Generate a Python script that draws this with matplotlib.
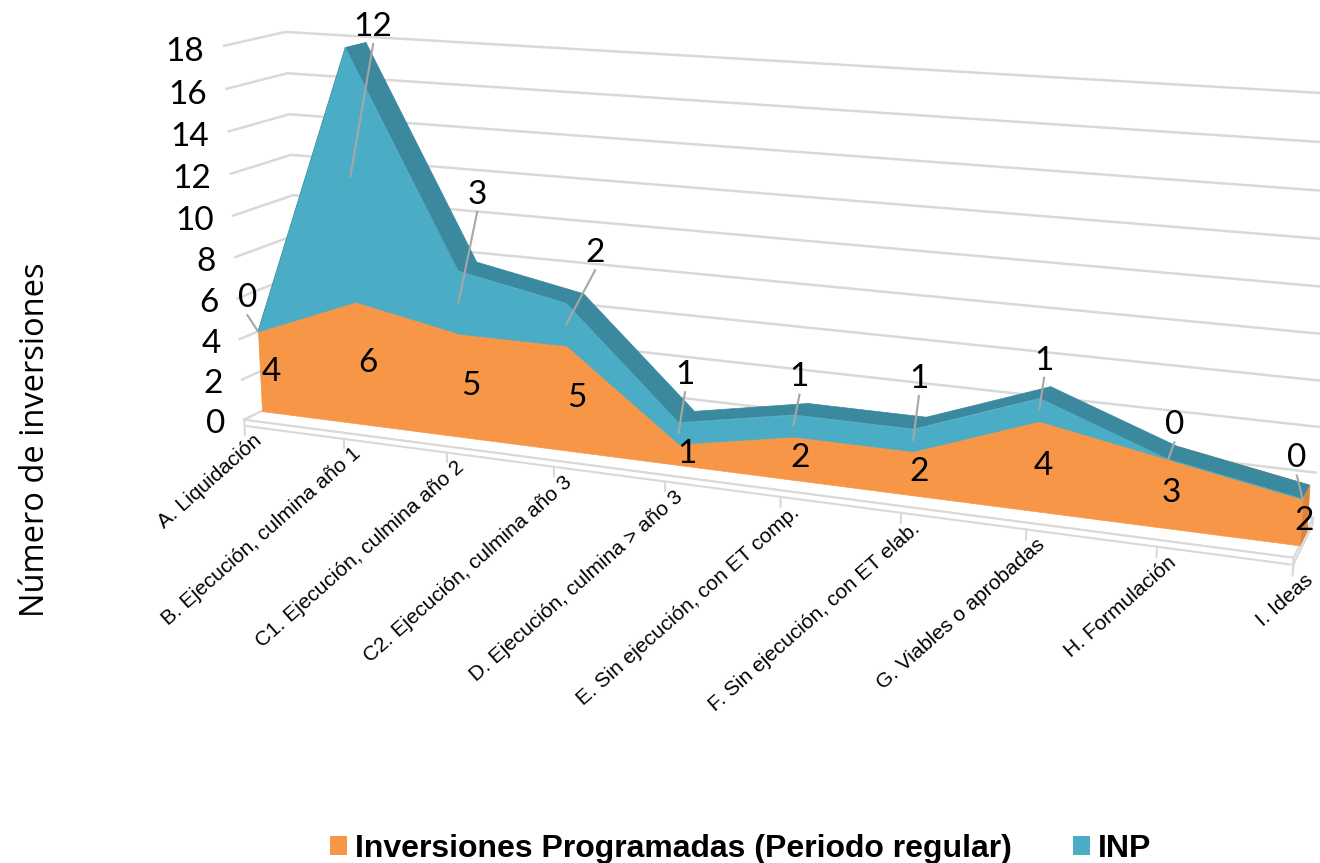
import numpy as np
import matplotlib
matplotlib.use("Agg")
import matplotlib.pyplot as plt
from matplotlib.patches import Patch
from mpl_toolkits.mplot3d.art3d import Poly3DCollection
from mpl_toolkits.mplot3d import proj3d

# datos
categorias = ["A. Liquidación", "B. Ejecución, culmina año 1",
              "C1. Ejecución, culmina año 2", "C2. Ejecución, culmina año 3",
              "D. Ejecución, culmina > año 3", "E. Sin ejecución, con ET comp.",
              "F. Sin ejecución, con ET elab.", "G. Viables o aprobadas",
              "H. Formulación", "I. Ideas"]
programadas = [4, 6, 5, 5, 1, 2, 2, 4, 3, 2]
inp = [0, 12, 3, 2, 1, 1, 1, 1, 0, 0]
z_ticks = [0, 2, 4, 6, 8, 10, 12, 14, 16, 18]
series = ["Inversiones Programadas (Periodo regular)", "INP"]

# where the INP labels sit (height of the label, shift along categories)
inp_label_z = [4.75, 18.25, 10.85, 8.65, 3.45, 3.95, 4.5, 5.9, 3.75, 2.95]
inp_label_dx = [-0.1, 0.27, 0.2, 0.27, 0.06, 0.05, 0.04, 0.03, 0.04, -0.05]

NARANJA = "#F79646"
NARANJA_OSC = "#DA843C"
AZUL = "#4BACC6"
AZUL_OSC = "#3B899E"
GRIS = "#D9D9D9"
LIDER = "#A6A6A6"

DEPTH = 2.5
YF, YB = 0.75, 1.65
FZ = -0.3

fig = plt.figure(figsize=(13.2, 8.63), dpi=100)
ax = fig.add_axes([25 / 1320, -127 / 863, 1400 / 1320, 1400 / 863],
                  projection="3d", computed_zorder=False)
ax.set_proj_type("persp", focal_length=0.305)
ax.view_init(elev=13.6, azim=-68)
ax.set_box_aspect((1.9, 0.195, 0.69), zoom=0.834)
ax.set_axis_off()

x = np.arange(len(categorias))
base = np.array(programadas, float)
top = base + np.array(inp, float)
x0, x1 = x[0], x[-1]
ax.set_xlim(x0, x1)
ax.set_ylim(0, DEPTH)
ax.set_zlim(z_ticks[0], z_ticks[-1])

# paredes: solo lineas de division
for v in z_ticks:
    ax.plot([x0, x0, x1], [0, DEPTH, DEPTH], [v, v, v], color=GRIS, lw=1.8, zorder=1)

# piso
piso = [
    [(x0, 0, 0), (x1, 0, 0), (x1, DEPTH, 0), (x0, DEPTH, 0)],
    [(x0, 0, FZ), (x1, 0, FZ), (x1, 0, 0), (x0, 0, 0)],
    [(x1, 0, FZ), (x1, DEPTH, FZ), (x1, DEPTH, 0), (x1, 0, 0)],
]
ax.add_collection3d(Poly3DCollection(piso, facecolor="white", edgecolor=GRIS,
                                     linewidth=1.5, zorder=2))
for xi in x:
    ax.plot([xi, xi], [0, 0], [FZ, FZ - 0.45], color=GRIS, lw=1.5, zorder=2)


def cara_frontal(lo, hi):
    return [[(xi, YF, h) for xi, h in zip(x, hi)] +
            [(xi, YF, l) for xi, l in zip(x[::-1], lo[::-1])]]


def caras_sup(h):
    return [[(x[i], YF, h[i]), (x[i + 1], YF, h[i + 1]),
             (x[i + 1], YB, h[i + 1]), (x[i], YB, h[i])] for i in range(len(x) - 1)]


ax.add_collection3d(Poly3DCollection(caras_sup(base), facecolor=NARANJA_OSC,
                                     edgecolor=NARANJA_OSC, linewidth=0.5, zorder=3))
ax.add_collection3d(Poly3DCollection(caras_sup(top), facecolor=AZUL_OSC,
                                     edgecolor=AZUL_OSC, linewidth=0.5, zorder=3.1))
fin = [[(x1, YF, 0), (x1, YB, 0), (x1, YB, base[-1]), (x1, YF, base[-1])]]
ax.add_collection3d(Poly3DCollection(fin, facecolor=NARANJA_OSC,
                                     edgecolor=NARANJA_OSC, linewidth=0.5, zorder=3.2))
ax.add_collection3d(Poly3DCollection(cara_frontal(np.zeros_like(base), base),
                                     facecolor=NARANJA, edgecolor=NARANJA,
                                     linewidth=0.5, zorder=4))
ax.add_collection3d(Poly3DCollection(cara_frontal(base, top), facecolor=AZUL,
                                     edgecolor=AZUL, linewidth=0.5, zorder=4.1))

# textos: se proyecta el punto 3D y se escribe en 2D
M = ax.get_proj()


def texto(x3, y3, z3, s, **kw):
    px, py, _ = proj3d.proj_transform(x3, y3, z3, M)
    return ax.text2D(px, py, s, transform=ax.transData, zorder=6, **kw)


num_font = dict(family=["Lato", "DejaVu Sans"], fontsize=24, color="black")

# etiquetas de datos
ymid = (YF + YB) / 2
for i in x:
    texto(i, ymid, base[i] / 2 - 0.25, str(programadas[i]), ha="center", va="center",
          **num_font)
    anchor = base[i] + inp[i] / 2
    lx = i + inp_label_dx[i]
    ax.plot([i, lx], [YF, YF], [anchor, inp_label_z[i]], color=LIDER, lw=1.5, zorder=5)
    texto(lx, YF, inp_label_z[i] + 0.1, str(inp[i]), ha="center", va="bottom", **num_font)

# eje vertical
for v in z_ticks:
    texto(x0 - 0.2, 0, v - 0.35, str(v), ha="right", va="center", **num_font)

# categorias
for i, lab in enumerate(categorias):
    texto(i + 0.08, 0, FZ - 0.2, lab, ha="right", va="top", rotation=41.5,
          rotation_mode="anchor", fontsize=15, family=["Liberation Sans", "DejaVu Sans"])

fig.text(0.027, 0.49, "Número de inversiones", rotation=90, ha="center", va="center",
         fontsize=23.5, family=["Open Sans", "DejaVu Sans"])

handles = [Patch(facecolor=NARANJA, edgecolor="none"), Patch(facecolor=AZUL, edgecolor="none")]
fig.legend(handles, series, loc="center", bbox_to_anchor=(0.561, 0.016), ncol=2,
           frameon=False, handlelength=0.53, handleheight=0.53, handletextpad=0.25,
           columnspacing=1.9,
           prop=dict(family=["Liberation Sans", "DejaVu Sans"], weight="bold", size=23))

fig.savefig("out.png", dpi=100)
